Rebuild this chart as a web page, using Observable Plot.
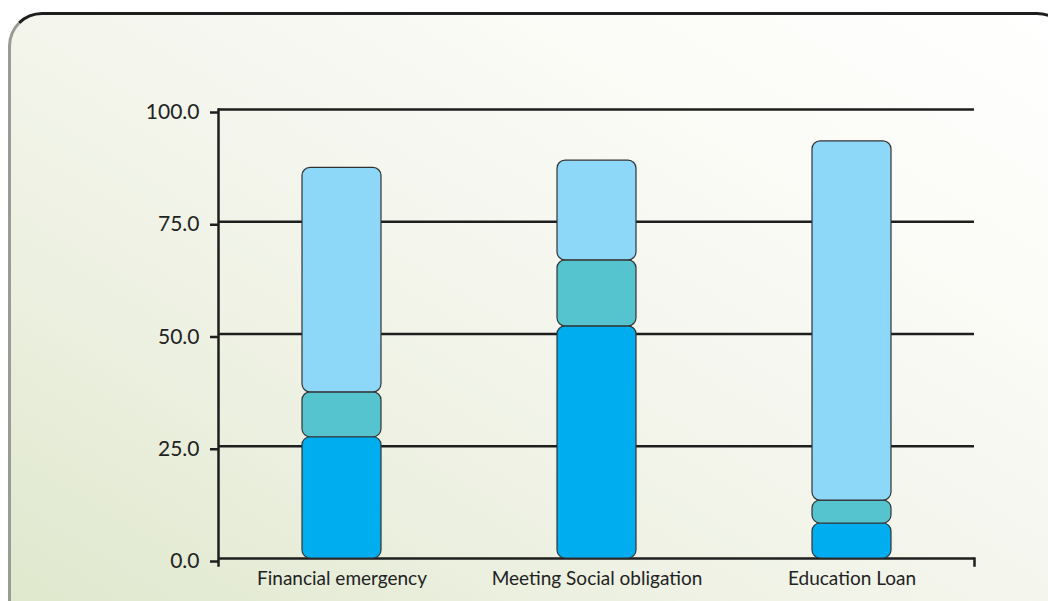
<!DOCTYPE html>
<html>
<head>
<meta charset="utf-8">
<script src="https://cdn.jsdelivr.net/npm/d3@7"></script>
<script src="https://cdn.jsdelivr.net/npm/@observablehq/plot@0.6"></script>
<style>
  html, body { margin: 0; padding: 0; background: #ffffff; width: 1048px; height: 601px; overflow: hidden; }
  #wrap { position: relative; width: 1048px; height: 601px; }
  #box {
    position: absolute; left: 8px; top: 12px; width: 1060px; height: 640px;
    border-top: 3px solid #1e1e1e; border-left: 3px solid #9a9a96;
    border-radius: 34px;
    background: linear-gradient(to top right, #dde6c9 0%, #ecf0e0 30%, #f5f6ee 55%, #fbfbf7 75%, #ffffff 100%);
  }
  #chart { position: absolute; left: 0; top: 0; }
</style>
</head>
<body>
<div id="wrap"><div id="box"></div><div id="chart"></div></div>
<script>
const categories = ["Financial emergency", "Meeting Social obligation", "Education Loan"];
const seriesNames = ["A", "B", "C"];
const seriesA = [27.0, 51.7, 7.8];
const seriesB = [10.0, 14.7, 5.1];
const seriesC = [50.0, 22.2, 80.0];
const yTicks = [0, 25, 50, 75, 100];
const colors = ["#00aeef", "#56c4cf", "#8dd8f8"];

const rows = [];
categories.forEach((c, i) => {
  rows.push({cat: c, series: "A", value: seriesA[i]});
  rows.push({cat: c, series: "B", value: seriesB[i]});
  rows.push({cat: c, series: "C", value: seriesC[i]});
});

const chart = Plot.plot({
  width: 1048,
  height: 601,
  marginLeft: 218,
  marginRight: 74,
  marginTop: 109,
  marginBottom: 43,
  style: {background: "transparent", fontFamily: "Lato, sans-serif", fontSize: "20px", color: "#222"},
  x: {domain: categories, range: [125, 1068], padding: 0.69, label: null},
  y: {domain: [0, 100], label: null},
  color: {domain: seriesNames, range: colors},
  marks: [
    Plot.ruleY(yTicks, {stroke: "#1e1e1e", strokeWidth: 2.5}),
    Plot.frame({anchor: "left", stroke: "#1e1e1e", strokeWidth: 2.5, insetBottom: -7}),
    Plot.frame({anchor: "right", stroke: "#1e1e1e", strokeWidth: 2.5, insetBottom: -7, insetTop: 449}),
    Plot.axisY({ticks: yTicks, tickFormat: d3.format(".1f"), tickSize: 8, tickPadding: 11, stroke: "#1e1e1e", strokeWidth: 2.5, fontSize: 21, dy: 3, label: null}),
    Plot.axisX({tickSize: 0, tickPadding: 13, fontSize: 19, label: null}),
    Plot.rectY(rows, Plot.stackY({x: "cat", y: "value", fill: "series", order: seriesNames, stroke: "#333", strokeWidth: 1.2, rx: 8}))
  ]
});
document.getElementById("chart").appendChild(chart);
</script>
</body>
</html>
